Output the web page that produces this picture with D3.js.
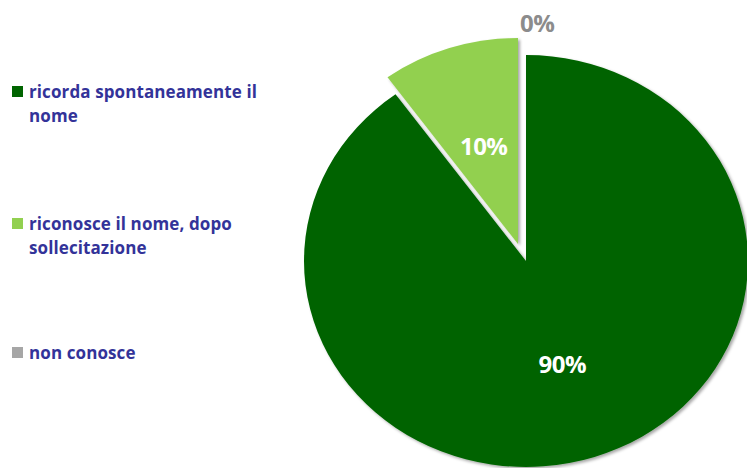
<!DOCTYPE html>
<html><head><meta charset="utf-8">
<script src="https://cdn.jsdelivr.net/npm/d3@7/dist/d3.min.js"></script>
<style>body{margin:0;background:#fff}svg{display:block}</style>
</head><body>
<script>
const categories = ["ricorda spontaneamente il nome", "riconosce il nome, dopo sollecitazione", "non conosce"];
const legendLines = [["ricorda spontaneamente il", "nome"], ["riconosce il nome, dopo", "sollecitazione"], ["non conosce"]];
const values = [90, 10, 0];
const labels = ["90%", "10%", "0%"];
const colors = ["#006400", "#92d050", "#a6a6a6"];

const W = 747, H = 468;
const cx = 526, cy = 261, rx = 222, ry = 206;
const explodeOffsets = [[0, 0], [-8, -17], [-7, -19]];
const svg = d3.select("body").append("svg").attr("width", W).attr("height", H);
const defs = svg.append("defs");
const f = defs.append("filter").attr("id", "sh").attr("x", "-20%").attr("y", "-20%").attr("width", "140%").attr("height", "140%");
f.append("feDropShadow").attr("dx", 2).attr("dy", 2).attr("stdDeviation", 1.5).attr("flood-color", "#000").attr("flood-opacity", 0.35);

const pie = d3.pie().sort(null).value(d => d)(values);
const arc = d3.arc().innerRadius(0).outerRadius(rx);
const sy = ry / rx;
const dir = a => [Math.sin(a), -Math.cos(a)];
const font = "'Open Sans', sans-serif";

pie.forEach((p, i) => {
  const mid = (p.startAngle + p.endAngle) / 2;
  const [dx, dy] = dir(mid);
  const ox = cx + explodeOffsets[i][0], oy = cy + explodeOffsets[i][1];
  const g = svg.append("g").attr("transform", `translate(${ox},${oy}) scale(1,${sy})`);
  if (p.endAngle - p.startAngle > 1e-6) {
    g.append("path").attr("d", arc(p)).attr("fill", colors[i]).attr("filter", "url(#sh)");
  } else {
    const [ux, uy] = dir(p.startAngle);
    g.append("line").attr("x1", 0).attr("y1", 0).attr("x2", ux * rx).attr("y2", uy * rx)
      .attr("stroke", colors[i]).attr("stroke-width", 3).attr("filter", "url(#sh)");
  }
  let lx, ly, anchor = "middle", col = "#fff";
  if (values[i] > 0) {
    const k = i === 0 ? 0.53 : 0.5;
    lx = ox + dx * rx * k; ly = oy + dy * ry * k;
  } else {
    lx = ox + dir(p.startAngle)[0] * rx + 1; ly = oy + dir(p.startAngle)[1] * ry * 1.06;
    anchor = "start"; col = "#8c8c8c";
  }
  svg.append("text").attr("x", lx).attr("y", ly).attr("dy", "0.36em").attr("text-anchor", anchor)
    .attr("fill", col).attr("font-family", font).attr("font-weight", 700)
    .attr("font-size", 24).attr("letter-spacing", -0.5).text(labels[i]);
});

const legY = [86, 218, 347];
categories.forEach((c, i) => {
  const g = svg.append("g").attr("transform", `translate(12,${legY[i]})`);
  g.append("rect").attr("width", 11).attr("height", 11).attr("fill", colors[i]);
  legendLines[i].forEach((t, j) => {
    g.append("text").attr("x", 17).attr("y", 12 + j * 24).attr("fill", "#333399")
      .attr("font-family", font).attr("font-weight", 700)
      .attr("font-size", 17).attr("letter-spacing", 0.1).text(t);
  });
});
</script>
</body></html>
